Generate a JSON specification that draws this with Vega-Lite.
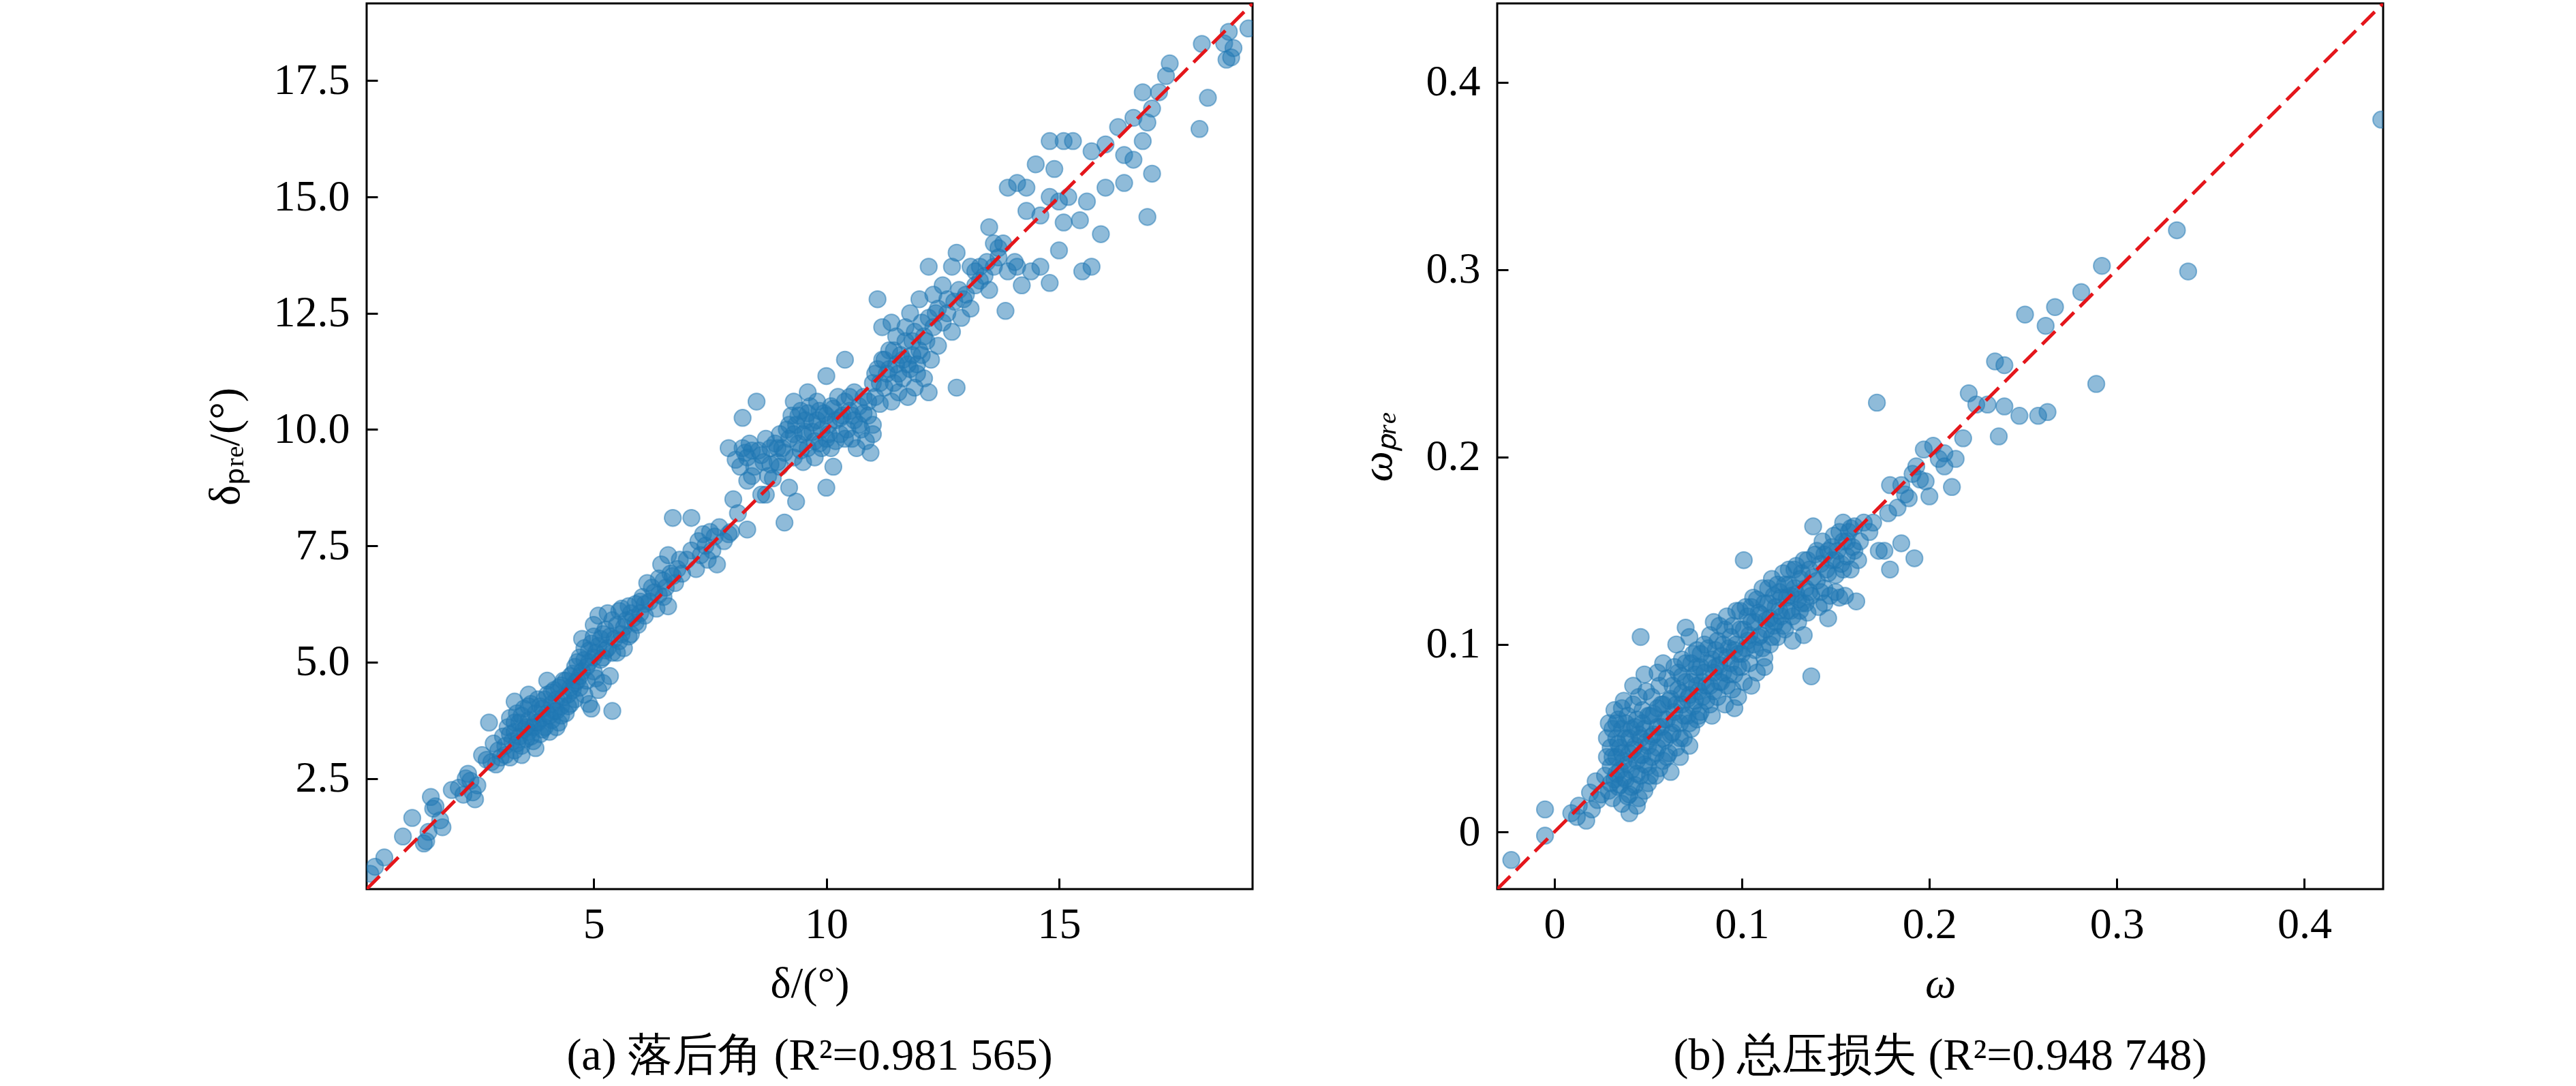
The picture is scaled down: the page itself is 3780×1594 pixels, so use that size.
{
  "$schema": "https://vega.github.io/schema/vega-lite/v6.json",
  "padding": {"left": 297, "top": 3, "right": 0, "bottom": 0},
  "spacing": 148,
  "config": {
    "font": "Liberation Serif",
    "view": {"stroke": "black", "strokeWidth": 3},
    "axis": {
      "grid": false,
      "domain": false,
      "tickColor": "black",
      "tickWidth": 3,
      "tickSize": -16,
      "labelFont": "Liberation Serif",
      "labelFontSize": 64,
      "labelColor": "black",
      "titleFont": "Liberation Serif",
      "titleFontSize": 64,
      "titleFontWeight": "normal",
      "titleColor": "black"
    },
    "axisX": {"labelPadding": 36, "titlePadding": 23},
    "axisY": {"labelPadding": 41, "titlePadding": 38},
    "title": {"font": "Liberation Serif", "fontSize": 66, "fontWeight": "normal", "color": "black", "orient": "bottom", "anchor": "middle", "frame": "group", "baseline": "top", "offset": 42}
  },
  "datasets": {
    "line_a": [{"v": 0.12}, {"v": 19.16}],
    "line_b": [{"v": -0.0305}, {"v": 0.442}],
    "a": [
      {"x":0.2,"y":0.45},{"x":0.3,"y":0.6},{"x":0.5,"y":0.8},{"x":0.9,"y":1.25},{"x":1.1,"y":1.65},{"x":1.35,"y":1.1},{"x":1.4,"y":1.15},{"x":1.45,"y":1.35},{"x":1.5,"y":2.1},{"x":1.55,"y":1.85},{"x":1.6,"y":1.9},{"x":1.75,"y":1.45},{"x":1.7,"y":1.6},{"x":1.95,"y":2.25},{"x":2.1,"y":2.3},{"x":2.2,"y":2.15},{"x":2.25,"y":2.5},{"x":2.35,"y":2.45},{"x":2.4,"y":2.2},{"x":2.45,"y":2.05},{"x":2.3,"y":2.6},{"x":2.5,"y":2.35},
      {"x":2.6,"y":3.0},{"x":2.75,"y":3.7},{"x":2.8,"y":2.85},{"x":2.9,"y":2.8},{"x":2.95,"y":3.1},{"x":2.85,"y":3.25},{"x":3.0,"y":2.95},{"x":2.7,"y":2.9},
      {"x":3.05,"y":3.4},{"x":3.1,"y":3.2},{"x":3.15,"y":3.6},{"x":3.2,"y":2.95},{"x":3.2,"y":3.8},{"x":3.25,"y":3.3},{"x":3.3,"y":3.5},{"x":3.3,"y":3.1},{"x":3.35,"y":3.9},{"x":3.4,"y":3.4},{"x":3.4,"y":3.7},{"x":3.45,"y":3.2},{"x":3.5,"y":3.55},{"x":3.5,"y":4.0},{"x":3.55,"y":3.35},{"x":3.6,"y":3.75},{"x":3.6,"y":3.5},{"x":3.65,"y":4.1},{"x":3.7,"y":3.3},{"x":3.7,"y":3.6},{"x":3.75,"y":3.9},{"x":3.8,"y":3.7},{"x":3.8,"y":4.2},{"x":3.85,"y":3.45},{"x":3.9,"y":3.8},{"x":3.9,"y":4.0},{"x":3.95,"y":3.6},{"x":4.0,"y":4.3},{"x":4.0,"y":3.9},{"x":4.05,"y":3.5},{"x":4.1,"y":4.1},{"x":4.1,"y":3.75},{"x":4.15,"y":4.4},{"x":4.2,"y":3.95},{"x":4.2,"y":4.2},{"x":4.25,"y":3.7},{"x":4.3,"y":4.5},{"x":4.3,"y":4.05},{"x":4.35,"y":4.25},{"x":4.4,"y":3.9},{"x":4.4,"y":4.6},{"x":4.45,"y":4.3},{"x":4.5,"y":4.1},{"x":4.5,"y":4.7},{"x":3.6,"y":4.3},{"x":3.3,"y":4.15},{"x":4.0,"y":4.6},{"x":3.45,"y":3.0},{"x":3.75,"y":3.15},{"x":4.2,"y":3.6},
      {"x":3.1,"y":3.0},{"x":3.2,"y":3.45},{"x":3.3,"y":3.7},{"x":3.35,"y":3.25},{"x":3.45,"y":3.85},{"x":3.55,"y":3.6},{"x":3.6,"y":4.05},{"x":3.65,"y":3.4},{"x":3.75,"y":3.7},{"x":3.85,"y":4.05},{"x":3.9,"y":3.55},{"x":3.95,"y":4.2},{"x":4.05,"y":3.85},{"x":4.1,"y":4.35},{"x":4.15,"y":3.95},{"x":4.25,"y":4.45},{"x":4.3,"y":3.85},{"x":4.35,"y":4.6},{"x":4.45,"y":4.05},{"x":4.5,"y":4.45},{"x":4.55,"y":4.75},{"x":4.6,"y":4.55},{"x":4.65,"y":5.0},{"x":4.7,"y":4.7},{"x":4.8,"y":5.05},{"x":4.85,"y":4.9},{"x":4.9,"y":5.25},{"x":5.0,"y":5.1},{"x":5.05,"y":4.65},{"x":5.1,"y":5.35},{"x":5.15,"y":5.05},{"x":5.2,"y":5.6},{"x":5.25,"y":5.25},{"x":5.35,"y":5.55},{"x":5.4,"y":5.2},{"x":5.5,"y":5.8},{"x":5.55,"y":5.45},{"x":5.65,"y":5.75},{"x":5.75,"y":5.55},{"x":5.8,"y":6.05},{"x":5.9,"y":5.85},{"x":6.0,"y":6.3},{"x":6.1,"y":6.25},{"x":6.25,"y":6.6},{"x":6.4,"y":6.45},{"x":6.5,"y":6.75},{"x":6.7,"y":6.85},{"x":6.85,"y":7.2},
      {"x":4.55,"y":4.4},{"x":4.6,"y":4.9},{"x":4.6,"y":4.2},{"x":4.65,"y":4.6},{"x":4.7,"y":5.1},{"x":4.7,"y":4.45},{"x":4.75,"y":4.8},{"x":4.8,"y":4.3},{"x":4.8,"y":5.3},{"x":4.85,"y":4.6},{"x":4.9,"y":5.0},{"x":4.9,"y":4.1},{"x":4.95,"y":5.4},{"x":5.0,"y":4.8},{"x":5.0,"y":5.8},{"x":5.05,"y":5.2},{"x":5.1,"y":4.4},{"x":5.1,"y":6.0},{"x":5.15,"y":5.5},{"x":5.2,"y":4.55},{"x":5.2,"y":5.1},{"x":5.25,"y":5.7},{"x":5.3,"y":5.3},{"x":5.35,"y":4.7},{"x":5.4,"y":3.95},{"x":5.4,"y":5.9},{"x":5.45,"y":5.5},{"x":5.5,"y":5.2},{"x":5.55,"y":6.1},{"x":5.6,"y":5.6},{"x":5.65,"y":5.3},{"x":5.7,"y":5.9},{"x":5.75,"y":6.2},{"x":5.8,"y":5.6},{"x":5.85,"y":5.95},{"x":5.9,"y":6.25},{"x":5.95,"y":5.8},{"x":6.0,"y":6.05},{"x":4.75,"y":5.5},{"x":5.0,"y":5.55},{"x":5.3,"y":6.05},{"x":5.6,"y":6.15},{"x":4.95,"y":4.0},
      {"x":6.05,"y":6.4},{"x":6.1,"y":6.0},{"x":6.15,"y":6.7},{"x":6.2,"y":6.3},{"x":6.3,"y":6.5},{"x":6.35,"y":6.15},{"x":6.4,"y":6.8},{"x":6.45,"y":7.1},{"x":6.5,"y":6.4},{"x":6.55,"y":6.6},{"x":6.6,"y":7.3},{"x":6.6,"y":6.2},{"x":6.65,"y":6.9},{"x":6.7,"y":8.1},{"x":6.75,"y":6.7},{"x":6.8,"y":7.0},{"x":6.9,"y":6.9},{"x":7.0,"y":7.2},
      {"x":7.1,"y":8.1},{"x":7.1,"y":7.4},{"x":7.2,"y":7.0},{"x":7.25,"y":7.6},{"x":7.3,"y":7.3},{"x":7.35,"y":7.75},{"x":7.4,"y":7.5},{"x":7.45,"y":7.2},{"x":7.5,"y":7.8},{"x":7.55,"y":7.4},{"x":7.6,"y":7.7},{"x":7.65,"y":7.1},{"x":7.7,"y":7.9},{"x":7.8,"y":7.6},{"x":7.9,"y":7.75},{"x":7.9,"y":9.6},{"x":8.0,"y":8.5},{"x":7.95,"y":7.8},
      {"x":8.05,"y":9.35},{"x":8.1,"y":8.2},{"x":8.2,"y":10.25},{"x":8.25,"y":9.5},{"x":8.3,"y":9.4},{"x":8.3,"y":7.85},{"x":8.3,"y":8.9},{"x":8.35,"y":9.7},{"x":8.4,"y":9.0},{"x":8.45,"y":9.2},{"x":8.5,"y":10.6},{"x":8.55,"y":9.55},{"x":8.6,"y":8.6},{"x":8.65,"y":9.3},{"x":8.7,"y":8.6},{"x":8.75,"y":9.0},{"x":8.8,"y":9.6},{"x":8.85,"y":8.95},{"x":8.9,"y":9.7},{"x":8.95,"y":9.3},{"x":9.0,"y":9.2},{"x":9.0,"y":9.9},
      {"x":8.4,"y":9.55},{"x":8.6,"y":9.45},{"x":8.7,"y":9.8},{"x":8.8,"y":9.25},{"x":8.95,"y":9.6},{"x":8.2,"y":9.6},{"x":8.15,"y":9.2},
      {"x":9.1,"y":8.0},{"x":9.1,"y":9.5},{"x":9.15,"y":10.0},{"x":9.2,"y":8.75},{"x":9.2,"y":9.8},{"x":9.25,"y":10.3},{"x":9.3,"y":9.4},{"x":9.35,"y":8.45},{"x":9.35,"y":10.1},{"x":9.4,"y":9.7},{"x":9.45,"y":10.4},{"x":9.5,"y":9.9},{"x":9.5,"y":9.3},{"x":9.55,"y":10.2},{"x":9.6,"y":9.6},{"x":9.65,"y":10.5},{"x":9.7,"y":9.95},{"x":9.75,"y":9.4},{"x":9.8,"y":10.2},{"x":9.8,"y":10.6},{"x":9.85,"y":9.7},{"x":9.9,"y":10.0},{"x":9.95,"y":10.35},{"x":10.0,"y":11.15},{"x":10.0,"y":8.75},{"x":10.0,"y":9.8},{"x":10.05,"y":10.1},{"x":10.1,"y":10.5},{"x":10.1,"y":9.6},{"x":10.15,"y":9.2},{"x":10.2,"y":10.2},{"x":10.25,"y":10.7},{"x":10.3,"y":9.9},{"x":10.35,"y":10.3},{"x":10.4,"y":11.5},{"x":10.4,"y":10.6},{"x":10.45,"y":10.0},{"x":10.5,"y":10.4},{"x":10.55,"y":9.8},{"x":10.6,"y":10.8},{"x":10.6,"y":10.2},{"x":10.65,"y":9.6},{"x":10.7,"y":10.5},{"x":10.75,"y":10.0},{"x":10.8,"y":10.7},{"x":10.85,"y":9.75},{"x":10.9,"y":10.3},{"x":10.95,"y":9.5},{"x":11.0,"y":10.1},{"x":11.0,"y":9.9},{"x":9.6,"y":10.8},{"x":9.3,"y":10.6},
      {"x":9.05,"y":9.6},{"x":9.2,"y":10.1},{"x":9.3,"y":9.9},{"x":9.4,"y":10.3},{"x":9.45,"y":9.55},{"x":9.55,"y":9.95},{"x":9.6,"y":10.35},{"x":9.7,"y":10.15},{"x":9.75,"y":9.75},{"x":9.85,"y":10.4},{"x":9.9,"y":9.6},{"x":10.0,"y":10.3},{"x":10.05,"y":9.9},{"x":10.15,"y":10.45},{"x":10.2,"y":9.75},{"x":10.3,"y":10.25},{"x":10.4,"y":9.8},{"x":10.5,"y":10.7},{"x":10.55,"y":10.3},{"x":10.7,"y":10.1},{"x":10.8,"y":10.35},{"x":10.9,"y":10.6},
      {"x":11.0,"y":11.0},{"x":11.05,"y":10.7},{"x":11.1,"y":11.3},{"x":11.1,"y":12.8},{"x":11.15,"y":10.55},{"x":11.2,"y":11.5},{"x":11.2,"y":12.2},{"x":11.25,"y":10.9},{"x":11.3,"y":11.2},{"x":11.35,"y":11.7},{"x":11.4,"y":10.6},{"x":11.4,"y":12.3},{"x":11.45,"y":11.0},{"x":11.5,"y":11.4},{"x":11.5,"y":12.0},{"x":11.55,"y":10.8},{"x":11.6,"y":11.6},{"x":11.65,"y":11.1},{"x":11.7,"y":11.9},{"x":11.75,"y":10.7},{"x":11.8,"y":11.3},{"x":11.8,"y":12.5},{"x":11.85,"y":11.6},{"x":11.9,"y":10.9},{"x":11.9,"y":12.1},{"x":11.95,"y":11.4},{"x":12.0,"y":12.8},{"x":12.0,"y":11.7},{"x":12.05,"y":12.3},{"x":12.1,"y":11.1},{"x":12.15,"y":11.9},{"x":12.2,"y":10.8},{"x":12.2,"y":13.5},{"x":12.25,"y":11.5},{"x":12.3,"y":12.9},{"x":12.35,"y":12.5},{"x":12.4,"y":11.8},{"x":12.5,"y":13.1},{"x":12.6,"y":12.8},{"x":12.7,"y":12.1},{"x":12.7,"y":13.5},{"x":12.8,"y":13.8},{"x":12.8,"y":10.9},{"x":12.9,"y":12.4},{"x":12.95,"y":12.8},
      {"x":11.05,"y":11.2},{"x":11.15,"y":11.0},{"x":11.25,"y":11.5},{"x":11.35,"y":11.3},{"x":11.45,"y":11.7},{"x":11.55,"y":11.2},{"x":11.65,"y":11.5},{"x":11.7,"y":12.2},{"x":11.75,"y":11.4},{"x":11.85,"y":11.9},{"x":11.95,"y":11.2},{"x":12.05,"y":11.6},{"x":12.1,"y":12.0},{"x":12.2,"y":12.4},{"x":12.3,"y":12.2},{"x":12.4,"y":12.6},{"x":12.5,"y":12.3},{"x":12.6,"y":12.5},{"x":12.75,"y":12.75},{"x":12.85,"y":13.0},{"x":13.0,"y":12.9},{"x":13.2,"y":13.4},{"x":13.3,"y":13.2},{"x":13.45,"y":13.6},{"x":13.6,"y":13.5},{"x":13.7,"y":13.9},
      {"x":13.1,"y":12.6},{"x":13.1,"y":13.5},{"x":13.2,"y":13.1},{"x":13.3,"y":13.5},{"x":13.4,"y":13.3},{"x":13.5,"y":14.35},{"x":13.5,"y":13.0},{"x":13.6,"y":14.0},{"x":13.7,"y":13.7},{"x":13.8,"y":14.0},{"x":13.85,"y":12.55},{"x":13.9,"y":15.2},{"x":13.9,"y":13.4},{"x":14.05,"y":13.6},{"x":14.1,"y":15.3},{"x":14.1,"y":13.5},{"x":14.2,"y":13.1},{"x":14.3,"y":15.2},{"x":14.3,"y":14.7},{"x":14.4,"y":13.4},{"x":14.5,"y":15.7},{"x":14.6,"y":13.5},{"x":14.6,"y":14.6},
      {"x":14.8,"y":13.15},{"x":14.8,"y":15.0},{"x":14.8,"y":16.2},{"x":14.9,"y":15.6},{"x":15.0,"y":14.9},{"x":15.0,"y":13.85},{"x":15.1,"y":16.2},{"x":15.1,"y":14.45},{"x":15.2,"y":15.0},{"x":15.3,"y":16.2},{"x":15.45,"y":14.5},{"x":15.5,"y":13.4},{"x":15.6,"y":14.9},{"x":15.7,"y":13.5},{"x":15.7,"y":15.98},{"x":15.9,"y":14.2},{"x":16.0,"y":16.13},{"x":16.0,"y":15.2},
      {"x":16.27,"y":16.5},{"x":16.4,"y":15.9},{"x":16.4,"y":15.3},{"x":16.6,"y":15.8},{"x":16.6,"y":16.7},{"x":16.8,"y":16.2},{"x":16.8,"y":17.25},{"x":16.9,"y":14.57},{"x":16.9,"y":16.6},{"x":17.0,"y":15.5},{"x":17.0,"y":16.9},{"x":17.15,"y":17.25},{"x":17.3,"y":17.6},{"x":17.38,"y":17.87},{"x":18.02,"y":16.46},{"x":18.07,"y":18.29},{"x":18.2,"y":17.13},{"x":18.55,"y":18.3},{"x":18.6,"y":17.95},{"x":18.7,"y":18.0},{"x":18.75,"y":18.2},{"x":19.07,"y":18.62},{"x":18.65,"y":18.55}
    ],
    "b": [
      {"x":-0.023,"y":-0.015},{"x":-0.005,"y":0.012},{"x":-0.005,"y":-0.002},{"x":0.009,"y":0.010},{"x":0.013,"y":0.014},{"x":0.017,"y":0.006},{"x":0.023,"y":0.017},{"x":0.019,"y":0.021},{"x":0.012,"y":0.008},{"x":0.02,"y":0.012},{"x":0.025,"y":0.02},{"x":0.022,"y":0.027},
      {"x":0.027,"y":0.030},{"x":0.028,"y":0.040},{"x":0.028,"y":0.050},{"x":0.029,"y":0.022},{"x":0.030,"y":0.035},{"x":0.030,"y":0.045},{"x":0.031,"y":0.055},{"x":0.031,"y":0.018},{"x":0.032,"y":0.028},{"x":0.033,"y":0.040},{"x":0.033,"y":0.050},{"x":0.034,"y":0.060},{"x":0.034,"y":0.024},{"x":0.035,"y":0.033},{"x":0.035,"y":0.045},{"x":0.036,"y":0.055},{"x":0.036,"y":0.015},{"x":0.037,"y":0.038},{"x":0.038,"y":0.028},{"x":0.038,"y":0.050},{"x":0.039,"y":0.062},{"x":0.040,"y":0.020},{"x":0.040,"y":0.042},{"x":0.041,"y":0.033},{"x":0.041,"y":0.055},{"x":0.042,"y":0.068},{"x":0.043,"y":0.025},{"x":0.043,"y":0.046},{"x":0.044,"y":0.038},{"x":0.044,"y":0.060},{"x":0.045,"y":0.072},{"x":0.046,"y":0.030},{"x":0.046,"y":0.050},{"x":0.047,"y":0.041},{"x":0.047,"y":0.065},{"x":0.048,"y":0.022},{"x":0.048,"y":0.055},{"x":0.049,"y":0.075},{"x":0.050,"y":0.035},{"x":0.050,"y":0.046},{"x":0.032,"y":0.065},{"x":0.037,"y":0.070},{"x":0.029,"y":0.058},{"x":0.045,"y":0.018},{"x":0.05,"y":0.026},{"x":0.040,"y":0.010},
      {"x":0.031,"y":0.040},{"x":0.033,"y":0.031},{"x":0.034,"y":0.047},{"x":0.036,"y":0.042},{"x":0.037,"y":0.029},{"x":0.038,"y":0.058},{"x":0.039,"y":0.036},{"x":0.040,"y":0.050},{"x":0.041,"y":0.024},{"x":0.042,"y":0.044},{"x":0.043,"y":0.056},{"x":0.044,"y":0.031},{"x":0.045,"y":0.052},{"x":0.046,"y":0.041},{"x":0.047,"y":0.058},{"x":0.048,"y":0.036},{"x":0.049,"y":0.048},{"x":0.050,"y":0.062},{"x":0.051,"y":0.030},{"x":0.052,"y":0.051},{"x":0.053,"y":0.063},{"x":0.054,"y":0.042},{"x":0.055,"y":0.056},{"x":0.056,"y":0.034},{"x":0.057,"y":0.068},{"x":0.058,"y":0.050},{"x":0.059,"y":0.060},{"x":0.060,"y":0.040},{"x":0.035,"y":0.025},{"x":0.039,"y":0.019},{"x":0.044,"y":0.014},{"x":0.042,"y":0.078},{"x":0.048,"y":0.084},{"x":0.030,"y":0.026},{"x":0.033,"y":0.058},{"x":0.036,"y":0.066},
      {"x":0.051,"y":0.062},{"x":0.052,"y":0.040},{"x":0.052,"y":0.072},{"x":0.053,"y":0.052},{"x":0.054,"y":0.030},{"x":0.055,"y":0.066},{"x":0.055,"y":0.045},{"x":0.056,"y":0.078},{"x":0.057,"y":0.056},{"x":0.058,"y":0.038},{"x":0.058,"y":0.068},{"x":0.059,"y":0.049},{"x":0.060,"y":0.082},{"x":0.060,"y":0.060},{"x":0.061,"y":0.042},{"x":0.062,"y":0.071},{"x":0.063,"y":0.053},{"x":0.064,"y":0.088},{"x":0.064,"y":0.064},{"x":0.065,"y":0.045},{"x":0.066,"y":0.076},{"x":0.067,"y":0.058},{"x":0.068,"y":0.092},{"x":0.068,"y":0.068},{"x":0.069,"y":0.050},{"x":0.070,"y":0.080},{"x":0.070,"y":0.109},{"x":0.071,"y":0.062},{"x":0.072,"y":0.073},{"x":0.073,"y":0.055},{"x":0.073,"y":0.090},{"x":0.074,"y":0.067},{"x":0.075,"y":0.084},{"x":0.076,"y":0.060},{"x":0.076,"y":0.097},{"x":0.077,"y":0.075},{"x":0.078,"y":0.088},{"x":0.078,"y":0.064},{"x":0.079,"y":0.080},{"x":0.080,"y":0.100},{"x":0.062,"y":0.032},{"x":0.067,"y":0.04},{"x":0.072,"y":0.046},{"x":0.055,"y":0.085},{"x":0.058,"y":0.09},{"x":0.046,"y":0.104},
      {"x":0.061,"y":0.070},{"x":0.062,"y":0.052},{"x":0.063,"y":0.078},{"x":0.064,"y":0.058},{"x":0.065,"y":0.068},{"x":0.066,"y":0.085},{"x":0.067,"y":0.050},{"x":0.068,"y":0.074},{"x":0.069,"y":0.062},{"x":0.070,"y":0.090},{"x":0.071,"y":0.071},{"x":0.072,"y":0.058},{"x":0.073,"y":0.080},{"x":0.074,"y":0.095},{"x":0.075,"y":0.070},{"x":0.076,"y":0.078},{"x":0.077,"y":0.062},{"x":0.078,"y":0.095},{"x":0.079,"y":0.072},{"x":0.080,"y":0.085},{"x":0.081,"y":0.078},{"x":0.082,"y":0.098},{"x":0.083,"y":0.068},{"x":0.084,"y":0.092},{"x":0.085,"y":0.075},{"x":0.086,"y":0.088},{"x":0.087,"y":0.102},{"x":0.088,"y":0.080},{"x":0.089,"y":0.094},{"x":0.090,"y":0.085},{"x":0.091,"y":0.108},{"x":0.092,"y":0.078},{"x":0.093,"y":0.098},{"x":0.094,"y":0.090},{"x":0.095,"y":0.110},{"x":0.096,"y":0.084},{"x":0.097,"y":0.100},{"x":0.098,"y":0.095},{"x":0.099,"y":0.118},{"x":0.100,"y":0.088},{"x":0.065,"y":0.100},{"x":0.072,"y":0.104},{"x":0.085,"y":0.112},{"x":0.068,"y":0.083},{"x":0.076,"y":0.088},
      {"x":0.081,"y":0.070},{"x":0.082,"y":0.090},{"x":0.083,"y":0.078},{"x":0.083,"y":0.105},{"x":0.084,"y":0.062},{"x":0.085,"y":0.085},{"x":0.086,"y":0.097},{"x":0.087,"y":0.072},{"x":0.088,"y":0.110},{"x":0.088,"y":0.089},{"x":0.089,"y":0.080},{"x":0.090,"y":0.100},{"x":0.091,"y":0.068},{"x":0.092,"y":0.093},{"x":0.092,"y":0.115},{"x":0.093,"y":0.084},{"x":0.094,"y":0.104},{"x":0.095,"y":0.076},{"x":0.096,"y":0.066},{"x":0.096,"y":0.097},{"x":0.097,"y":0.118},{"x":0.098,"y":0.088},{"x":0.099,"y":0.108},{"x":0.100,"y":0.095},{"x":0.101,"y":0.145},{"x":0.101,"y":0.080},{"x":0.102,"y":0.120},{"x":0.103,"y":0.102},{"x":0.104,"y":0.090},{"x":0.105,"y":0.112},{"x":0.106,"y":0.125},{"x":0.107,"y":0.097},{"x":0.108,"y":0.085},{"x":0.109,"y":0.117},{"x":0.110,"y":0.105},{"x":0.111,"y":0.130},{"x":0.112,"y":0.093},{"x":0.113,"y":0.113},{"x":0.114,"y":0.122},{"x":0.115,"y":0.100},{"x":0.116,"y":0.135},{"x":0.117,"y":0.110},{"x":0.118,"y":0.120},{"x":0.119,"y":0.104},{"x":0.120,"y":0.128},{"x":0.105,"y":0.078},{"x":0.098,"y":0.072},{"x":0.112,"y":0.088},
      {"x":0.101,"y":0.108},{"x":0.102,"y":0.098},{"x":0.103,"y":0.115},{"x":0.104,"y":0.105},{"x":0.105,"y":0.120},{"x":0.106,"y":0.100},{"x":0.107,"y":0.112},{"x":0.108,"y":0.124},{"x":0.109,"y":0.104},{"x":0.110,"y":0.116},{"x":0.111,"y":0.098},{"x":0.112,"y":0.122},{"x":0.113,"y":0.108},{"x":0.114,"y":0.130},{"x":0.115,"y":0.114},{"x":0.116,"y":0.104},{"x":0.117,"y":0.126},{"x":0.118,"y":0.112},{"x":0.119,"y":0.132},{"x":0.120,"y":0.118},{"x":0.121,"y":0.125},{"x":0.122,"y":0.110},{"x":0.123,"y":0.132},{"x":0.124,"y":0.118},{"x":0.125,"y":0.140},{"x":0.126,"y":0.126},{"x":0.127,"y":0.115},{"x":0.128,"y":0.130},{"x":0.129,"y":0.142},{"x":0.130,"y":0.124},{"x":0.131,"y":0.118},{"x":0.132,"y":0.138},{"x":0.134,"y":0.122},{"x":0.135,"y":0.145},{"x":0.136,"y":0.128},{"x":0.138,"y":0.136},{"x":0.140,"y":0.150},{"x":0.142,"y":0.128},{"x":0.144,"y":0.148},{"x":0.146,"y":0.138},{"x":0.148,"y":0.152},{"x":0.150,"y":0.145},{"x":0.152,"y":0.160},{"x":0.154,"y":0.140},{"x":0.156,"y":0.155},{"x":0.158,"y":0.162},{"x":0.160,"y":0.150},{"x":0.144,"y":0.122},{"x":0.150,"y":0.128},{"x":0.154,"y":0.165},
      {"x":0.121,"y":0.115},{"x":0.122,"y":0.138},{"x":0.123,"y":0.108},{"x":0.124,"y":0.125},{"x":0.125,"y":0.132},{"x":0.126,"y":0.118},{"x":0.127,"y":0.102},{"x":0.128,"y":0.140},{"x":0.129,"y":0.127},{"x":0.130,"y":0.112},{"x":0.131,"y":0.135},{"x":0.132,"y":0.122},{"x":0.133,"y":0.105},{"x":0.133,"y":0.145},{"x":0.134,"y":0.130},{"x":0.135,"y":0.117},{"x":0.136,"y":0.140},{"x":0.137,"y":0.083},{"x":0.137,"y":0.126},{"x":0.138,"y":0.163},{"x":0.139,"y":0.148},{"x":0.140,"y":0.134},{"x":0.141,"y":0.120},{"x":0.142,"y":0.143},{"x":0.143,"y":0.155},{"x":0.144,"y":0.130},{"x":0.145,"y":0.140},{"x":0.146,"y":0.114},{"x":0.146,"y":0.150},{"x":0.147,"y":0.126},{"x":0.148,"y":0.145},{"x":0.149,"y":0.158},{"x":0.150,"y":0.137},{"x":0.151,"y":0.150},{"x":0.152,"y":0.125},{"x":0.153,"y":0.143},{"x":0.154,"y":0.155},{"x":0.155,"y":0.126},{"x":0.156,"y":0.147},{"x":0.157,"y":0.160},{"x":0.158,"y":0.140},{"x":0.159,"y":0.152},{"x":0.160,"y":0.163},{"x":0.161,"y":0.123},{"x":0.162,"y":0.145},{"x":0.163,"y":0.155},{"x":0.165,"y":0.165},{"x":0.168,"y":0.160},
      {"x":0.170,"y":0.165},{"x":0.172,"y":0.229},{"x":0.173,"y":0.150},{"x":0.176,"y":0.150},{"x":0.178,"y":0.170},{"x":0.179,"y":0.140},{"x":0.179,"y":0.185},{"x":0.183,"y":0.173},{"x":0.185,"y":0.185},{"x":0.185,"y":0.154},{"x":0.187,"y":0.180},{"x":0.189,"y":0.178},{"x":0.191,"y":0.191},{"x":0.192,"y":0.146},{"x":0.193,"y":0.195},{"x":0.195,"y":0.188},{"x":0.197,"y":0.204},{"x":0.198,"y":0.187},{"x":0.200,"y":0.179},{"x":0.202,"y":0.206},{"x":0.205,"y":0.199},{"x":0.208,"y":0.202},{"x":0.208,"y":0.195},{"x":0.212,"y":0.184},{"x":0.214,"y":0.199},{"x":0.218,"y":0.210},
      {"x":0.221,"y":0.234},{"x":0.225,"y":0.228},{"x":0.231,"y":0.228},{"x":0.235,"y":0.251},{"x":0.237,"y":0.211},{"x":0.240,"y":0.227},{"x":0.240,"y":0.249},{"x":0.248,"y":0.222},{"x":0.251,"y":0.276},{"x":0.258,"y":0.222},{"x":0.262,"y":0.270},{"x":0.263,"y":0.224},{"x":0.267,"y":0.280},{"x":0.281,"y":0.288},{"x":0.289,"y":0.239},{"x":0.292,"y":0.302},{"x":0.332,"y":0.321},{"x":0.338,"y":0.299},{"x":0.441,"y":0.380}
    ]
  },
  "hconcat": [
    {
      "width": 1300,
      "height": 1300,
      "title": {"text": "(a) 落后角 (R²=0.981 565)"},
      "layer": [
        {
          "data": {"name": "a"},
          "mark": {"type": "point", "shape": "circle", "filled": true, "size": 600, "color": "#1f77b4", "fillOpacity": 0.5, "stroke": "#1f77b4", "strokeWidth": 2, "strokeOpacity": 0.5, "clip": true},
          "encoding": {
            "x": {"field": "x", "type": "quantitative", "scale": {"domain": [0.12, 19.16], "zero": false, "nice": false}, "axis": {"values": [5, 10, 15], "format": "d", "title": "δ/(°)"}},
            "y": {"field": "y", "type": "quantitative", "scale": {"domain": [0.12, 19.16], "zero": false, "nice": false}, "axis": {"values": [2.5, 5, 7.5, 10, 12.5, 15, 17.5], "format": ".1f", "title": "δₚᵣₑ/(°)"}}
          }
        },
        {
          "data": {"name": "line_a"},
          "mark": {"type": "line", "color": "#e4161b", "strokeWidth": 5, "strokeDash": [27, 12], "clip": true},
          "encoding": {
            "x": {"field": "v", "type": "quantitative"},
            "y": {"field": "v", "type": "quantitative"}
          }
        }
      ]
    },
    {
      "width": 1300,
      "height": 1300,
      "title": {"text": "(b) 总压损失 (R²=0.948 748)"},
      "layer": [
        {
          "data": {"name": "b"},
          "mark": {"type": "point", "shape": "circle", "filled": true, "size": 600, "color": "#1f77b4", "fillOpacity": 0.5, "stroke": "#1f77b4", "strokeWidth": 2, "strokeOpacity": 0.5, "clip": true},
          "encoding": {
            "x": {"field": "x", "type": "quantitative", "scale": {"domain": [-0.0305, 0.442], "zero": false, "nice": false}, "axis": {"values": [0, 0.1, 0.2, 0.3, 0.4], "format": "~g", "title": "ω", "titleFontStyle": "italic"}},
            "y": {"field": "y", "type": "quantitative", "scale": {"domain": [-0.0305, 0.442], "zero": false, "nice": false}, "axis": {"values": [0, 0.1, 0.2, 0.3, 0.4], "format": "~g", "title": "ωₚᵣₑ", "titleFontStyle": "italic"}}
          }
        },
        {
          "data": {"name": "line_b"},
          "mark": {"type": "line", "color": "#e4161b", "strokeWidth": 5, "strokeDash": [27, 12], "clip": true},
          "encoding": {
            "x": {"field": "v", "type": "quantitative"},
            "y": {"field": "v", "type": "quantitative"}
          }
        }
      ]
    }
  ]
}
